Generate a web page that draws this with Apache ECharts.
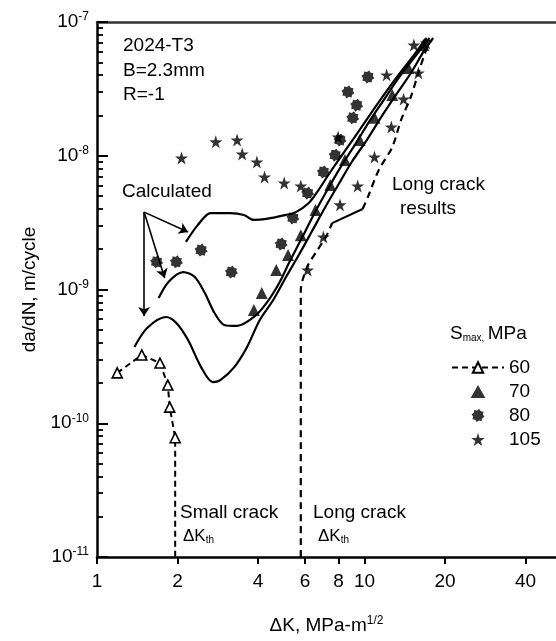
<!DOCTYPE html>
<html><head><meta charset="utf-8">
<script src="https://cdn.jsdelivr.net/npm/echarts@6/dist/echarts.min.js"></script>
<style>html,body{margin:0;padding:0;background:#fff}#c{width:556px;height:641px}</style>
</head><body><div id="c"></div>
<script>
// ---- tick labels ----
const xTickValues = [1, 2, 4, 6, 8, 10, 20, 40];
const yMinorTickValues = [2e-11,3e-11,4e-11,5e-11,6e-11,7e-11,8e-11,9e-11,
  2e-10,3e-10,4e-10,5e-10,6e-10,7e-10,8e-10,9e-10,
  2e-9,3e-9,4e-9,5e-9,6e-9,7e-9,8e-9,9e-9,
  2e-8,3e-8,4e-8,5e-8,6e-8,7e-8,8e-8,9e-8];
const legendNames = ['60', '70', '80', '105'];

// ---- Smax = 60 MPa (open triangles, dashed to small-crack threshold) ----
const dK60 = [1.19, 1.47, 1.72, 1.84, 1.87, 1.96, 1.96];
const da60 = [2.38e-10, 3.24e-10, 2.82e-10, 1.93e-10, 1.32e-10, 7.8e-11, 1e-11];

// ---- Smax = 70 MPa ----
const dK70 = [3.86, 4.13, 4.68, 5.18, 5.78, 6.56, 7.45, 8.45, 9.59, 10.9, 12.7, 14.6, 16.6];
const da70 = [7.03e-10, 9.42e-10, 1.40e-9, 1.81e-9, 2.55e-9, 3.93e-9, 6.04e-9, 9.30e-9, 1.31e-8, 1.92e-8, 2.84e-8, 4.53e-8, 6.73e-8];

// ---- Smax = 80 MPa ----
const dK80 = [1.67, 1.98, 2.45, 3.18, 4.88, 5.40, 6.13, 7.02, 7.77, 8.10, 9.04, 9.35, 8.67, 10.3];
const da80 = [1.61e-9, 1.61e-9, 1.97e-9, 1.35e-9, 2.19e-9, 3.43e-9, 5.26e-9, 7.56e-9, 1.01e-8, 1.31e-8, 1.92e-8, 2.39e-8, 3.00e-8, 3.88e-8];

// ---- Smax = 105 MPa ----
const dK105 = [2.07, 2.78, 3.34, 3.49, 3.96, 4.23, 5.01, 5.78, 8.10, 9.43, 10.9, 12.6, 14.0, 15.9, 17.0, 7.02, 6.13, 12.1, 7.97, 15.3];
const da105 = [9.62e-9, 1.27e-8, 1.31e-8, 1.03e-8, 8.98e-9, 6.93e-9, 6.25e-9, 5.94e-9, 4.29e-9, 5.94e-9, 9.79e-9, 1.64e-8, 2.65e-8, 4.16e-8, 6.97e-8, 2.47e-9, 1.40e-9, 4.02e-8, 1.38e-8, 6.73e-8];

// ---- Calculated curves ----
const calcA_dK = [2.15, 2.38, 2.66, 3.15, 3.54, 3.86, 4.30, 5.09, 5.54, 6.19, 6.73, 7.45, 8.24, 9.19, 10.4, 11.8, 13.4, 15.3, 17.0];
const calcA_da = [2.27e-9, 3.03e-9, 3.73e-9, 3.73e-9, 3.61e-9, 3.31e-9, 3.37e-9, 3.61e-9, 3.79e-9, 4.43e-9, 5.54e-9, 7.56e-9, 1.01e-8, 1.38e-8, 1.98e-8, 2.84e-8, 4.02e-8, 5.66e-8, 7.59e-8];
const calcB_dK = [1.70, 1.85, 2.10, 2.32, 2.53, 2.75, 2.99, 3.34, 3.86, 4.30, 4.80, 5.22, 5.78, 6.45, 7.26, 8.10, 9.19, 10.4, 11.8, 13.4, 15.3, 17.5];
const calcB_da = [8.64e-10, 1.14e-9, 1.35e-9, 1.24e-9, 9.42e-10, 6.67e-10, 5.43e-10, 5.34e-10, 6.23e-10, 7.92e-10, 1.12e-9, 1.58e-9, 2.34e-9, 3.61e-9, 5.54e-9, 8.09e-9, 1.20e-8, 1.79e-8, 2.61e-8, 3.81e-8, 5.38e-8, 7.59e-8];
const calcC_dK = [1.38, 1.54, 1.81, 1.98, 2.19, 2.45, 2.71, 2.89, 3.26, 3.64, 4.06, 4.56, 5.09, 5.68, 6.34, 7.14, 7.97, 8.96, 10.2, 11.5, 13.1, 15.0, 16.6, 18.05];
const calcC_da = [3.72e-10, 5.16e-10, 6.23e-10, 5.62e-10, 4.19e-10, 2.63e-10, 2.03e-10, 2.10e-10, 2.63e-10, 3.72e-10, 5.92e-10, 8.35e-10, 1.24e-9, 1.81e-9, 2.69e-9, 4.14e-9, 6.04e-9, 8.98e-9, 1.31e-8, 1.92e-8, 2.84e-8, 4.23e-8, 5.97e-8, 7.59e-8];

// ---- Long crack results ----
const lcLow_dK = [5.78, 5.78, 5.93, 6.18, 6.67, 7.20, 7.57];
const lcLow_da = [1e-11, 9.9e-10, 1.26e-9, 1.55e-9, 1.97e-9, 2.51e-9, 3.14e-9];
const lcKnee_dK = [7.57, 9.84];
const lcKnee_da = [3.14e-9, 4.0e-9];
const lcUp_dK = [9.84, 10.3, 11.3, 12.7, 13.7, 14.9, 15.9, 17.0, 17.6];
const lcUp_da = [4.0e-9, 4.92e-9, 7.8e-9, 1.16e-8, 1.85e-8, 2.75e-8, 4.16e-8, 6.18e-8, 7.3e-8];

// ---- "Calculated" pointer arrows ----
const arrowFrom = [1.50, 3.79e-9];
const arrowTo_dK = [2.19, 1.79, 1.50];
const arrowTo_da = [2.69e-9, 1.22e-9, 6.34e-10];

const pairs = (xs, ys) => xs.map((x, i) => [x, ys[i]]);
const FONT = 'Liberation Sans, Arial, Helvetica, sans-serif';

function burstPath(n, r1, r2) {
  let d = '';
  for (let i = 0; i < 2 * n; i++) {
    const a = i * Math.PI / n + Math.PI / (2 * n);
    const r = i % 2 === 0 ? r1 : r2;
    const x = (50 + r * Math.cos(a)).toFixed(2), y = (50 + r * Math.sin(a)).toFixed(2);
    d += (i === 0 ? 'M' : 'L') + x + ',' + y + ' ';
  }
  return 'path://' + d + 'Z';
}
const STAR = 'path://M50,0 L61.8,35.4 L99,35.4 L69,57.3 L80.4,93 L50,71 L19.6,93 L31,57.3 L1,35.4 L38.2,35.4 Z';
const BURST = burstPath(8, 50, 38);
const TRI = 'path://M50,0 L100,88 L0,88 Z';

const d60 = pairs(dK60, da60).map((p, i, a) => i === a.length - 1 ? { value: p, symbol: 'none' } : p);

const chart = echarts.init(document.getElementById('c'), null, { renderer: 'canvas' });
const supFmt = v => {
  const e = Math.round(Math.log10(v));
  return '{b|10}{s|' + e + '}';
};

chart.setOption({
  backgroundColor: '#fff',
  animation: false,
  textStyle: { fontFamily: FONT, color: '#000' },
  grid: { left: 97, top: 22, right: -10, bottom: 84, containLabel: false },
  xAxis: [{
    type: 'log', min: 1, max: 52, logBase: 10,
    position: 'bottom',
    name: '{a|ΔK, MPa-m}{s|1/2}', nameLocation: 'middle', nameGap: 58,
    nameTextStyle: { rich: { a: { fontSize: 19, fontFamily: FONT, color: '#000' }, s: { fontSize: 12, fontFamily: FONT, color: '#000', verticalAlign: 'top', padding: [0, 0, 10, 0] } } },
    axisLine: { show: true, lineStyle: { color: '#000', width: 2.5 } },
    axisTick: { show: true, inside: false, length: 7, customValues: xTickValues, lineStyle: { color: '#000', width: 2 } },
    axisLabel: { show: true, customValues: xTickValues, formatter: v => String(+v.toPrecision(6)), fontSize: 19, fontFamily: FONT, color: '#000', margin: 15 },
    splitLine: { show: false }, minorTick: { show: false }
  }, {
    type: 'log', min: 1, max: 52, position: 'top',
    axisLine: { show: true, lineStyle: { color: '#333', width: 2.5 } },
    axisTick: { show: false }, axisLabel: { show: false }, splitLine: { show: false }
  }],
  yAxis: [{
    type: 'log', min: 1e-11, max: 1e-7, logBase: 10, position: 'left',
    name: 'da/dN, m/cycle', nameLocation: 'middle', nameGap: 55, nameRotate: 90,
    nameTextStyle: { fontSize: 19, fontFamily: FONT, color: '#000' },
    axisLine: { show: true, lineStyle: { color: '#000', width: 2.5 } },
    axisTick: { show: true, inside: true, length: 11, lineStyle: { color: '#000', width: 2 } },
    axisLabel: { formatter: supFmt, margin: 8, rich: { b: { fontSize: 19, fontFamily: FONT, color: '#000' }, s: { fontSize: 12, fontFamily: FONT, color: '#000', verticalAlign: 'top', padding: [0, 0, 10, 0] } } },
    splitLine: { show: false }
  }, {
    type: 'log', min: 1e-11, max: 1e-7, position: 'left', offset: 0,
    axisLine: { show: false },
    axisTick: { show: true, inside: true, length: 6, customValues: yMinorTickValues, lineStyle: { color: '#000', width: 1.8 } },
    axisLabel: { show: false }, splitLine: { show: false }
  }],
  legend: {
    data: legendNames, orient: 'vertical', left: 446, top: 352,
    itemWidth: 52, itemHeight: 13, itemGap: 3,
    textStyle: { fontSize: 19, lineHeight: 21, fontFamily: FONT, color: '#000' },
    selectedMode: false
  },
  graphic: [
    { type: 'text', left: 123, top: 36, style: { text: '2024-T3', font: '19px ' + FONT, fill: '#000' } },
    { type: 'text', left: 123, top: 61, style: { text: 'B=2.3mm', font: '19px ' + FONT, fill: '#000' } },
    { type: 'text', left: 123, top: 85, style: { text: 'R=-1', font: '19px ' + FONT, fill: '#000' } },
    { type: 'text', left: 122, top: 182, style: { text: 'Calculated', font: '19px ' + FONT, fill: '#000' } },
    { type: 'text', left: 392, top: 175, style: { text: 'Long crack', font: '19px ' + FONT, fill: '#000' } },
    { type: 'text', left: 400, top: 199, style: { text: 'results', font: '19px ' + FONT, fill: '#000' } },
    { type: 'text', left: 180, top: 503, style: { text: 'Small crack', font: '19px ' + FONT, fill: '#000' } },
    { type: 'text', left: 183, top: 528, style: { text: '{a|ΔK}{b|th}', rich: { a: { fontSize: 17, fontFamily: FONT, fill: '#000' }, b: { fontSize: 10, fontFamily: FONT, fill: '#000', verticalAlign: 'bottom', padding: [8, 0, 0, 0] } } } },
    { type: 'text', left: 313, top: 503, style: { text: 'Long crack', font: '19px ' + FONT, fill: '#000' } },
    { type: 'text', left: 318, top: 528, style: { text: '{a|ΔK}{b|th}', rich: { a: { fontSize: 17, fontFamily: FONT, fill: '#000' }, b: { fontSize: 10, fontFamily: FONT, fill: '#000', verticalAlign: 'bottom', padding: [8, 0, 0, 0] } } } },
    { type: 'text', left: 450, top: 324, style: { text: '{a|S}{b|max,} {a|MPa}', rich: { a: { fontSize: 19, fontFamily: FONT, fill: '#000' }, b: { fontSize: 10, fontFamily: FONT, fill: '#000', verticalAlign: 'bottom', padding: [10, 0, 0, 0] } } } }
  ],
  series: [
    { name: 'calcA', type: 'line', data: pairs(calcA_dK, calcA_da), smooth: 0.3, symbol: 'none', lineStyle: { color: '#000', width: 2.2 }, z: 2, silent: true },
    { name: 'calcB', type: 'line', data: pairs(calcB_dK, calcB_da), smooth: 0.3, symbol: 'none', lineStyle: { color: '#000', width: 2.2 }, z: 2, silent: true },
    { name: 'calcC', type: 'line', data: pairs(calcC_dK, calcC_da), smooth: 0.3, symbol: 'none', lineStyle: { color: '#000', width: 2.2 }, z: 2, silent: true },
    { name: 'lcLow', type: 'line', data: pairs(lcLow_dK, lcLow_da), smooth: 0.3, symbol: 'none', lineStyle: { color: '#000', width: 2.2, type: [7, 5] }, z: 2 },
    { name: 'lcKnee', type: 'line', data: pairs(lcKnee_dK, lcKnee_da), symbol: 'none', lineStyle: { color: '#000', width: 2 }, z: 2 },
    { name: 'lcUp', type: 'line', data: pairs(lcUp_dK, lcUp_da), smooth: 0.3, symbol: 'none', lineStyle: { color: '#000', width: 2.2, type: [7, 5] }, z: 2 },
    { name: 'arrows', type: 'lines', coordinateSystem: 'cartesian2d',
      data: arrowTo_dK.map((x, i) => ({ coords: [arrowFrom, [x, arrowTo_da[i]]] })),
      symbol: ['none', 'arrow'], symbolSize: 9,
      lineStyle: { color: '#000', width: 1.6, opacity: 1, curveness: 0 }, z: 3 },
    { name: '60', type: 'line', data: d60, symbol: TRI, symbolSize: 10, showAllSymbol: true,
      itemStyle: { color: '#fff', borderColor: '#000', borderWidth: 1.6 },
      lineStyle: { color: '#000', width: 2, type: [6, 4] }, z: 4, clip: false },
    { name: '70', type: 'scatter', data: pairs(dK70, da70), symbol: TRI, symbolSize: 12, itemStyle: { color: '#000' }, z: 5 },
    { name: '80', type: 'scatter', data: pairs(dK80, da80), symbol: BURST, symbolSize: 13, itemStyle: { color: '#000' }, z: 5 },
    { name: '105', type: 'scatter', data: pairs(dK105, da105), symbol: STAR, symbolSize: 13, itemStyle: { color: '#000' }, z: 5 }
  ]
});
</script>
</body></html>
